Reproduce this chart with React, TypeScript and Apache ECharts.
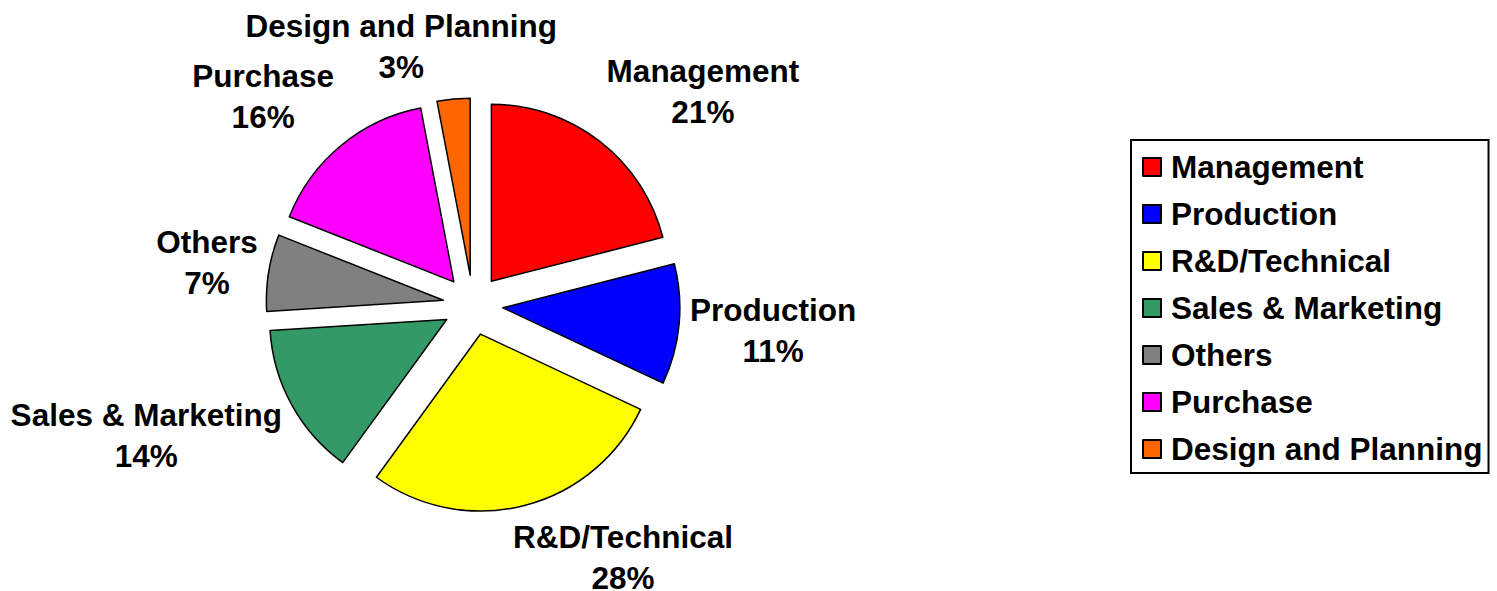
import React, { useEffect, useRef } from "react";
import * as echarts from "echarts";

const categories = [
  "Management",
  "Production",
  "R&D/Technical",
  "Sales & Marketing",
  "Others",
  "Purchase",
  "Design and Planning",
];
const shares = [21, 11, 28, 14, 7, 16, 3];
const colors = ["#FF0000", "#0000FF", "#FFFF00", "#339966", "#808080", "#FF00FF", "#FF6600"];

const CX = 473;
const CY = 305;
const R = 177;
const OFFSET = 30;
const GAP = 11;
const FONT_SIZE = 31.5;
const LINE_H = 41;
const FONT = "'Liberation Sans', Arial, sans-serif";

function measure(text: string): number {
  const c = document.createElement("canvas").getContext("2d");
  if (!c) return text.length * FONT_SIZE * 0.6;
  c.font = `bold ${FONT_SIZE}px ${FONT}`;
  return c.measureText(text).width;
}

const clamp = (v: number) => Math.max(-1, Math.min(1, v));

export default function App() {
  const ref = useRef<HTMLDivElement>(null);
  useEffect(() => {
    if (!ref.current) return;
    const chart = echarts.init(ref.current, undefined, { renderer: "svg" });
    const total = shares.reduce((a, b) => a + b, 0);
    const cum: number[] = [];
    let acc = 0;
    shares.forEach((v) => {
      cum.push(acc);
      acc += v;
    });
    const labelTexts = categories.map((name, i) => {
      const mid = ((cum[i] + shares[i] / 2) / total) * Math.PI * 2;
      const ux = Math.sin(mid);
      const uy = -Math.cos(mid);
      const d = R + OFFSET + GAP;
      const pct = `${shares[i]}%`;
      const w = Math.max(measure(name), measure(pct));
      const h = LINE_H * 2;
      return {
        type: "text",
        x: CX + ux * d + (clamp(3.5 * ux) * w) / 2,
        y: CY + uy * d + (clamp(1.3 * uy) * h) / 2,
        silent: true,
        style: {
          text: `${name}\n${pct}`,
          fill: "#000000",
          font: `bold ${FONT_SIZE}px ${FONT}`,
          lineHeight: LINE_H,
          align: "center",
          verticalAlign: "middle",
        },
      };
    });
    chart.setOption({
      animation: false,
      backgroundColor: "#ffffff",
      legend: {
        orient: "vertical",
        left: 1131,
        top: 140,
        data: categories.map((name) => ({ name, icon: "rect" })),
        itemWidth: 18,
        itemHeight: 18,
        itemGap: 15,
        padding: [11, 6, 8, 11],
        borderColor: "#000000",
        borderWidth: 2,
        selectedMode: false,
        textStyle: {
          fontFamily: FONT,
          fontWeight: "bold",
          fontSize: FONT_SIZE,
          lineHeight: 32,
          color: "#000000",
          padding: [0, 0, 0, 5],
        },
      },
      graphic: labelTexts,
      series: [
        {
          type: "pie",
          center: [CX, CY],
          radius: R,
          startAngle: 90,
          clockwise: true,
          selectedMode: "multiple",
          selectedOffset: OFFSET,
          avoidLabelOverlap: false,
          itemStyle: { borderColor: "#000000", borderWidth: 1.5 },
          select: { itemStyle: { borderColor: "#000000", borderWidth: 1.5 } },
          emphasis: { disabled: true },
          labelLine: { show: false },
          label: { show: false },
          data: categories.map((name, i) => ({
            name,
            value: shares[i],
            selected: true,
            itemStyle: { color: colors[i] },
          })),
        },
      ],
    });
    return () => chart.dispose();
  }, []);
  return (
    <div
      ref={ref}
      style={{ position: "fixed", left: 0, top: 0, width: 1497, height: 591 }}
    />
  );
}
